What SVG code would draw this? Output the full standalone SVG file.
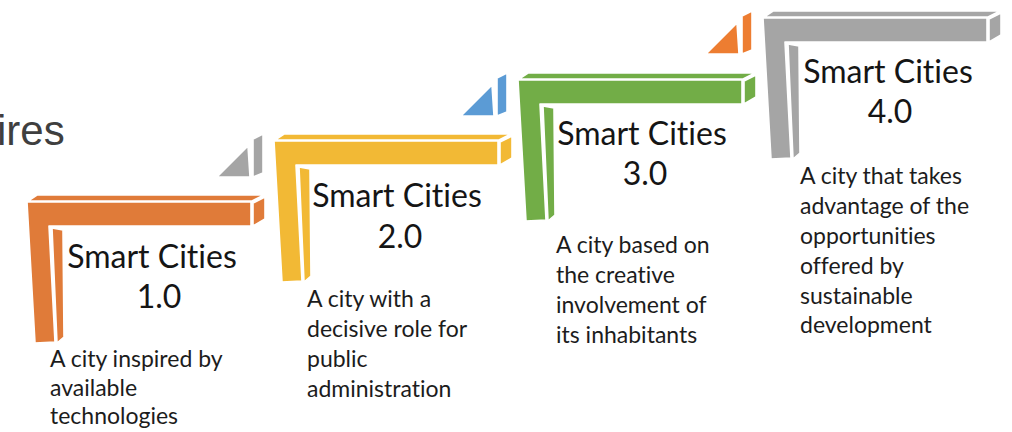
<svg xmlns="http://www.w3.org/2000/svg" xmlns:xlink="http://www.w3.org/1999/xlink" width="1012" height="432" viewBox="0 0 1012 432">
<style>
.title{font-family:Lato,"Open Sans","Liberation Sans",sans-serif;font-size:32px;fill:#151515;text-anchor:middle;font-variant-ligatures:none}
.desc{font-family:Lato,"Open Sans","Liberation Sans",sans-serif;font-size:23px;fill:#1c1c1c;font-variant-ligatures:none}
.cut{font-family:"Liberation Sans",Arial,sans-serif;font-size:42px;fill:#3f3f3f}
.piece{stroke:#ffffff;stroke-width:1.6;stroke-linejoin:round}
</style>
<defs>
<g id="bracket">
<polygon class="piece" points="1,-1 10,-7 237,-7 225,-1"/>
<polygon class="piece" points="0,0 224,0 224,24 22,24 28,140 8,141"/>
<polygon class="piece" points="226,1 238,-5 238,17 226,24"/>
<polygon class="piece" points="25,26 36,28 37,135 30,141"/>
</g>
<g id="wedge">
<polygon class="piece" points="-57,36 -26,5 -24,36"/>
<polygon class="piece" points="-21,-2 -11,-7 -11,32 -21,36"/>
</g>
</defs>
<text class="cut" x="-3" y="145">ires</text>
<g id="connectors">
<use xlink:href="#wedge" transform="translate(274,141)" fill="#a5a5a5"/>
<use xlink:href="#wedge" transform="translate(518,80)" fill="#5b9bd5"/>
<use xlink:href="#wedge" transform="translate(763,18)" fill="#ed7d31"/>
</g>
<g id="step1">
<use xlink:href="#bracket" transform="translate(27,202)" fill="#e07b39"/>
<text class="title" x="152" y="268">Smart Cities</text>
<text class="title" x="159" y="308">1.0</text>
<text class="desc" x="50" y="367">A city inspired by</text>
<text class="desc" x="50" y="396">available</text>
<text class="desc" x="50" y="424">technologies</text>
</g>
<g id="step2">
<use xlink:href="#bracket" transform="translate(274,141)" fill="#f2b935"/>
<text class="title" x="397" y="207">Smart Cities</text>
<text class="title" x="400" y="248">2.0</text>
<text class="desc" x="307" y="307">A city with a</text>
<text class="desc" x="307" y="337">decisive role for</text>
<text class="desc" x="307" y="367">public</text>
<text class="desc" x="307" y="397">administration</text>
</g>
<g id="step3">
<use xlink:href="#bracket" transform="translate(518,80)" fill="#72ad47"/>
<text class="title" x="642" y="145">Smart Cities</text>
<text class="title" x="645" y="185">3.0</text>
<text class="desc" x="556" y="253">A city based on</text>
<text class="desc" x="556" y="283">the creative</text>
<text class="desc" x="556" y="313">involvement of</text>
<text class="desc" x="556" y="343">its inhabitants</text>
</g>
<g id="step4">
<use xlink:href="#bracket" transform="translate(763,18)" fill="#a5a5a5"/>
<text class="title" x="888" y="83">Smart Cities</text>
<text class="title" x="890" y="123">4.0</text>
<text class="desc" x="800" y="184">A city that takes</text>
<text class="desc" x="800" y="214">advantage of the</text>
<text class="desc" x="800" y="244">opportunities</text>
<text class="desc" x="800" y="274">offered by</text>
<text class="desc" x="800" y="304">sustainable</text>
<text class="desc" x="800" y="333">development</text>
</g>
</svg>
